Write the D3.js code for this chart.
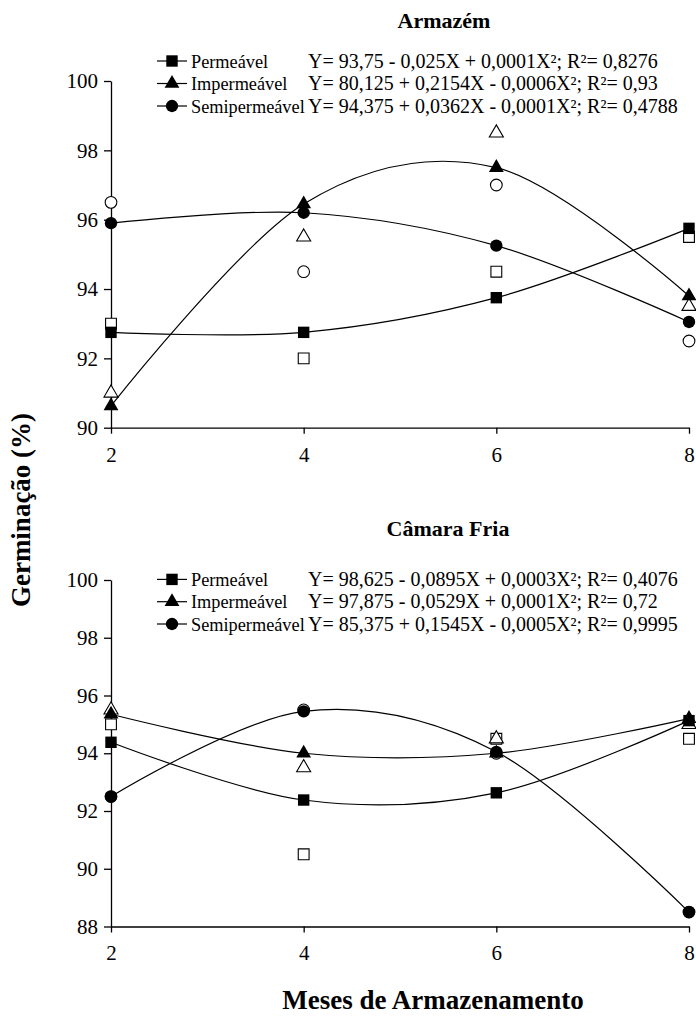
<!DOCTYPE html>
<html>
<head>
<meta charset="utf-8">
<script src="https://cdn.jsdelivr.net/npm/d3@7/dist/d3.min.js"></script>
<style>
  html, body { margin: 0; padding: 0; background: #fff; }
  svg { display: block; }
  text { font-family: "Liberation Serif", "Times New Roman", serif; fill: #000; }
</style>
</head>
<body>
<script>
// ---------- DATA ----------
const months = [2, 4, 6, 8];
const xTickLabels = ["2", "4", "6", "8"];
const seriesNames = ["Permeável", "Impermeável", "Semipermeável"];

// Armazém — fitted (filled markers, curves) and observed (hollow markers)
const armPermFit = [92.75, 92.75, 93.75, 95.75];
const armImpFit  = [90.63, 96.45, 97.5, 93.8];
const armSemiFit = [95.9, 96.2, 95.25, 93.05];
const armPermObs = [93.0, 92.0, 94.5, 95.5];
const armImpObs  = [91.0, 95.5, 98.5, 93.5];
const armSemiObs = [96.5, 94.5, 97.0, 92.5];
const armEquations = [
  "Y= 93,75 - 0,025X + 0,0001X²; R²= 0,8276",
  "Y= 80,125 + 0,2154X - 0,0006X²; R²= 0,93",
  "Y= 94,375 + 0,0362X - 0,0001X²; R²= 0,4788"
];
const armYTicks = [90, 92, 94, 96, 98, 100];

// Câmara Fria
const cfPermFit = [94.38, 92.38, 92.63, 95.13];
const cfImpFit  = [95.35, 94.0, 94.0, 95.2];
const cfSemiFit = [92.5, 95.45, 94.05, 88.5];
const cfPermObs = [95.0, 90.5, 94.5, 94.5];
const cfImpObs  = [95.5, 93.5, 94.5, 95.0];
const cfSemiObs = [92.5, 95.5, 94.0, 88.5];
const cfEquations = [
  "Y= 98,625 - 0,0895X + 0,0003X²; R²= 0,4076",
  "Y= 97,875 - 0,0529X + 0,0001X²; R²= 0,72",
  "Y= 85,375 + 0,1545X - 0,0005X²; R²= 0,9995"
];
const cfYTicks = [88, 90, 92, 94, 96, 98, 100];

const yLabel = "Germinação (%)";
const xLabel = "Meses de Armazenamento";

// ---------- DRAWING ----------
const W = 696, H = 1027;
const svg = d3.select("body").append("svg").attr("width", W).attr("height", H);

const x = d3.scaleLinear().domain([2, 8]).range([111, 689]);
const symbolTypes = [d3.symbolSquare, d3.symbolTriangle, d3.symbolCircle];
const symbolSizes = [130, 95, 120];
const line = (y) => d3.line().x((d, i) => x(months[i])).y(d => y(d)).curve(d3.curveCatmullRom.alpha(0));

function panel(cfg) {
  const g = svg.append("g");
  const y = d3.scaleLinear().domain(cfg.domain).range(cfg.range);

  const ya = g.append("g").attr("transform", `translate(${x(2)},0)`)
    .call(d3.axisLeft(y).tickValues(cfg.yTicks).tickFormat(d3.format("d")).tickSize(7).tickSizeOuter(0).tickPadding(6));
  const xa = g.append("g").attr("transform", `translate(0,${cfg.range[0]})`)
    .call(d3.axisBottom(x).tickValues(months).tickFormat((d, i) => xTickLabels[i]).tickSize(6).tickSizeOuter(0).tickPadding(13));
  [ya, xa].forEach(a => {
    a.attr("font-family", null);
    a.selectAll("path, line").attr("stroke", "#000").attr("stroke-width", 1.3);
    a.selectAll("text").style("font-size", "21px");
  });

  cfg.fit.forEach(vals => {
    g.append("path").datum(vals).attr("d", line(y)).attr("fill", "none").attr("stroke", "#000").attr("stroke-width", 1.2);
  });
  cfg.obs.forEach((vals, s) => {
    g.selectAll(null).data(vals).enter().append("path")
      .attr("d", d3.symbol().type(symbolTypes[s]).size(symbolSizes[s] * 0.9))
      .attr("transform", (d, i) => `translate(${x(months[i])},${y(d)})`)
      .attr("fill", "#fff").attr("stroke", "#000").attr("stroke-width", 1.1);
  });
  cfg.fit.forEach((vals, s) => {
    g.selectAll(null).data(vals).enter().append("path")
      .attr("d", d3.symbol().type(symbolTypes[s]).size(symbolSizes[s]))
      .attr("transform", (d, i) => `translate(${x(months[i])},${y(d)})`)
      .attr("fill", "#000");
  });

  g.append("text").attr("x", cfg.titleX).attr("y", cfg.titleY).attr("text-anchor", "middle")
    .style("font-size", "22px").style("font-weight", "bold").text(cfg.title);

  cfg.legendRows.forEach((ry, s) => {
    g.append("line").attr("x1", cfg.legX - 15).attr("x2", cfg.legX + 15).attr("y1", ry).attr("y2", ry)
      .attr("stroke", "#000").attr("stroke-width", 1.2);
    g.append("path").attr("d", d3.symbol().type(symbolTypes[s]).size(symbolSizes[s]))
      .attr("transform", `translate(${cfg.legX},${ry})`).attr("fill", "#000");
    g.append("text").attr("x", cfg.legX + 19).attr("y", ry + 6.5).style("font-size", "18.3px").text(seriesNames[s]);
    g.append("text").attr("x", cfg.legX + 136).attr("y", ry + 6.5).style("font-size", "20px").text(cfg.equations[s]);
  });
}

panel({
  title: "Armazém", titleX: 444, titleY: 28,
  domain: [90, 100], range: [427.7, 81], yTicks: armYTicks,
  fit: [armPermFit, armImpFit, armSemiFit],
  obs: [armPermObs, armImpObs, armSemiObs],
  equations: armEquations,
  legX: 172, legendRows: [61, 83.5, 106]
});

panel({
  title: "Câmara Fria", titleX: 448, titleY: 536,
  domain: [88, 100], range: [926.5, 580], yTicks: cfYTicks,
  fit: [cfPermFit, cfImpFit, cfSemiFit],
  obs: [cfPermObs, cfImpObs, cfSemiObs],
  equations: cfEquations,
  legX: 172, legendRows: [579.4, 601.7, 624]
});

svg.append("text").attr("transform", "translate(30,510) rotate(-90)").attr("text-anchor", "middle")
  .style("font-size", "27px").style("font-weight", "bold").text(yLabel);
svg.append("text").attr("x", 433).attr("y", 1009).attr("text-anchor", "middle")
  .style("font-size", "27px").style("font-weight", "bold").text(xLabel);
</script>
</body>
</html>
